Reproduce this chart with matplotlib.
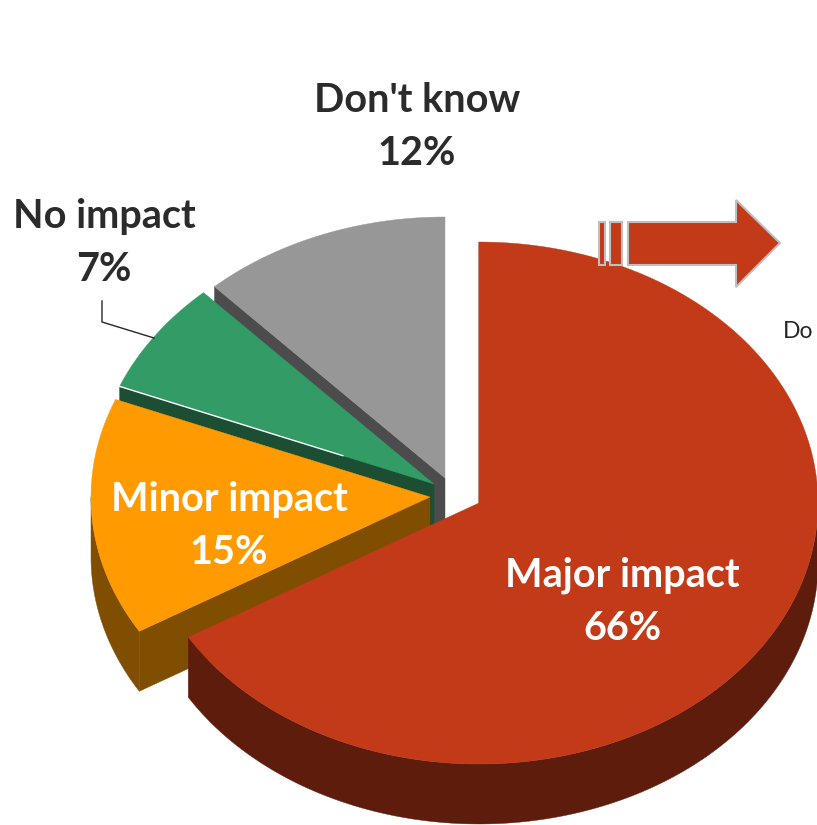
import numpy as np
import matplotlib
matplotlib.use('Agg')
import matplotlib.pyplot as plt
from matplotlib.patches import Polygon

plt.rcParams['font.family'] = ['Lato', 'DejaVu Sans']

labels = ['Major impact', 'Minor impact', 'No impact', "Don't know"]
shares = [66.4, 14.7, 7.0, 11.9]
top_colors = ['#C23A17', '#FF9A00', '#339B66', '#979797']
side_colors = ['#5E1C0C', '#804E00', '#1B4E33', '#4C4C4C']
apex_x = [479, 430, 434, 445]
apex_y = [503, 497, 484, 478]
label_x = [622, 229, 104, 417]
label_y = [602, 526, 243, 127]
label_colors = ['white', 'white', '#2B2B2B', '#2B2B2B']

rx = 339
ry = 261
depth = 60


def rim(cx, cy, a0, a1):
    t = np.radians(np.linspace(a0, a1, 200))
    return np.column_stack([cx + rx * np.sin(t), cy - ry * np.cos(t)])


fig = plt.figure(figsize=(8.17, 8.25), dpi=100)
ax = fig.add_axes([0, 0, 1, 1])
ax.set_xlim(0, 817)
ax.set_ylim(825, 0)
ax.axis('off')

# back slices first so the nearer ones cover them
starts = np.cumsum([0] + shares[:-1]) * 3.6
ends = np.cumsum(shares) * 3.6
for i in [3, 2, 1, 0]:
    cx, cy = apex_x[i], apex_y[i]
    z = 10 - i
    edge = rim(cx, cy, starts[i], starts[i])[0]
    face = [(cx, cy), tuple(edge), (edge[0], edge[1] + depth), (cx, cy + depth)]
    ax.add_patch(Polygon(face, fc=side_colors[i], ec=side_colors[i], lw=0.3, zorder=z))

    lo, hi = max(starts[i], 90), min(ends[i], 270)
    if hi > lo:
        arc = rim(cx, cy, lo, hi)
        low = arc[::-1] + [0, depth]
        ax.add_patch(Polygon(np.vstack([arc, low]), fc=side_colors[i], ec=side_colors[i],
                             lw=0.3, zorder=z))

    pts = np.vstack([[cx, cy], rim(cx, cy, starts[i], ends[i])])
    ax.add_patch(Polygon(pts, fc=top_colors[i], ec=top_colors[i], lw=0.3, zorder=z + 0.5))

    ax.text(label_x[i], label_y[i], f'{labels[i]}\n{round(shares[i])}%', color=label_colors[i],
            fontsize=28.5, fontweight='bold', ha='center', va='center', linespacing=1.55,
            zorder=30)

# thin white seam on the green slice
seam = rim(apex_x[2], apex_y[2], starts[2], starts[2])[0]
ax.plot([seam[0], seam[0] + 0.71 * (apex_x[2] - seam[0])],
        [seam[1], seam[1] + 0.71 * (apex_y[2] - seam[1])], color='white', lw=1, zorder=20)

# leader line for No impact
ax.plot([102, 102, 154], [301, 322, 338], color='#262626', lw=1, zorder=20)

# arrow with the two bars behind it
arrow = [(628, 222), (736, 222), (736, 200), (780, 243), (736, 287), (736, 265), (628, 265)]
ax.add_patch(Polygon(arrow, fc='#C23A17', ec='#BFBFBF', lw=1.5, zorder=25))
for x0, x1 in [(599, 605), (610, 622)]:
    ax.add_patch(Polygon([(x0, 222), (x1, 222), (x1, 265), (x0, 265)], fc='#C23A17',
                         ec='#BFBFBF', lw=1.5, zorder=25))

ax.text(783, 332, 'Do', color='#262626', fontsize=16.5, ha='left', va='center', zorder=30)

fig.savefig('out.png', dpi=100)
